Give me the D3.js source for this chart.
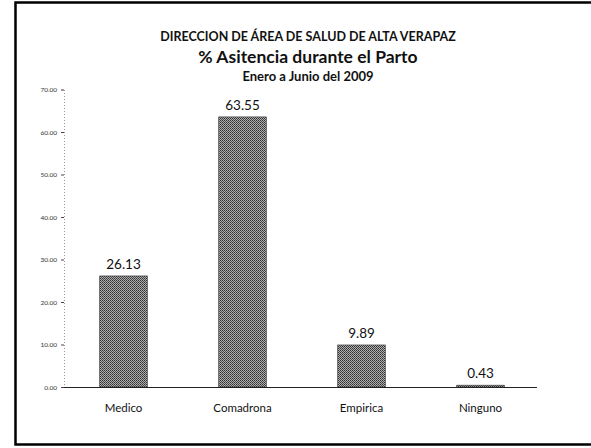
<!DOCTYPE html>
<html>
<head>
<meta charset="utf-8">
<script src="https://cdn.jsdelivr.net/npm/d3@7"></script>
<style>
  body { margin: 0; background: #fff; }
  svg { display: block; }
</style>
</head>
<body>
<svg id="chart" width="591" height="448"></svg>
<script>
const categories = ['Medico', 'Comadrona', 'Empirica', 'Ninguno'];
const values = [26.13, 63.55, 9.89, 0.43];
const yTicks = [0, 10, 20, 30, 40, 50, 60, 70];

const titleLines = [
  'DIRECCION DE ÁREA DE SALUD DE ALTA VERAPAZ',
  '% Asitencia durante el Parto',
  'Enero a Junio del 2009'
];

const width = 591, height = 448;
const font = 'Lato, "Open Sans", sans-serif';

const svg = d3.select('#chart');

// dithered grey fill like the scanned bars
const defs = svg.append('defs');
const pat = defs.append('pattern')
  .attr('id', 'dither')
  .attr('patternUnits', 'userSpaceOnUse')
  .attr('width', 2).attr('height', 2);
pat.append('rect').attr('width', 2).attr('height', 2).attr('fill', '#b0b0b0');
pat.append('rect').attr('width', 1).attr('height', 1).attr('fill', '#2e2e2e');
pat.append('rect').attr('x', 1).attr('y', 1).attr('width', 1).attr('height', 1).attr('fill', '#4a4a4a');

// outer frame (right edge runs off the page)
svg.append('path')
  .attr('d', 'M595,2.5 H15.5 V444.5 H595')
  .attr('fill', 'none')
  .attr('stroke', '#000')
  .attr('stroke-width', 2.5);

const x = d3.scaleBand()
  .domain(categories)
  .range([64, 540])
  .paddingInner(0.6)
  .paddingOuter(0.3);

const y = d3.scaleLinear()
  .domain([0, 70])
  .range([387, 89.5]);

// title
const titleSizes = [12.5, 17.5, 13];
const titleY = [41, 63, 81];
titleLines.forEach((t, i) => {
  svg.append('text')
    .attr('x', 308)
    .attr('y', titleY[i])
    .attr('text-anchor', 'middle')
    .attr('font-family', font)
    .attr('font-weight', 'bold')
    .attr('font-size', titleSizes[i])
    .attr('fill', '#111')
    .text(t);
});

// y axis
const yAxis = svg.append('g')
  .attr('transform', 'translate(64,0)')
  .call(d3.axisLeft(y).tickValues(yTicks).tickFormat(d3.format('.2f')).tickSize(3).tickPadding(4));
yAxis.select('.domain')
  .attr('stroke', '#999')
  .attr('stroke-dasharray', '1,2');
yAxis.selectAll('.tick line').attr('stroke', '#444');
yAxis.selectAll('.tick text')
  .attr('font-family', font)
  .attr('font-size', 6.5)
  .attr('fill', '#333');

// bars
svg.selectAll('rect.bar')
  .data(values)
  .join('rect')
  .attr('class', 'bar')
  .attr('x', (d, i) => x(categories[i]))
  .attr('y', d => y(d))
  .attr('width', x.bandwidth())
  .attr('height', d => y(0) - y(d))
  .attr('fill', 'url(#dither)')
  .attr('stroke', '#333')
  .attr('stroke-width', 0.6);

// x axis baseline
svg.append('line')
  .attr('x1', 64).attr('x2', 537)
  .attr('y1', y(0) + 0.5).attr('y2', y(0) + 0.5)
  .attr('stroke', '#222')
  .attr('stroke-width', 1.2);

// value labels
svg.selectAll('text.val')
  .data(values)
  .join('text')
  .attr('class', 'val')
  .attr('x', (d, i) => x(categories[i]) + x.bandwidth() / 2)
  .attr('y', d => y(d) - 7)
  .attr('text-anchor', 'middle')
  .attr('font-family', font)
  .attr('font-size', 13.5)
  .attr('fill', '#111')
  .text(d => d3.format('.2f')(d));

// category labels
svg.selectAll('text.cat')
  .data(categories)
  .join('text')
  .attr('class', 'cat')
  .attr('x', d => x(d) + x.bandwidth() / 2)
  .attr('y', 412)
  .attr('text-anchor', 'middle')
  .attr('font-family', font)
  .attr('font-size', 11.5)
  .attr('fill', '#111')
  .text(d => d);
</script>
</body>
</html>
